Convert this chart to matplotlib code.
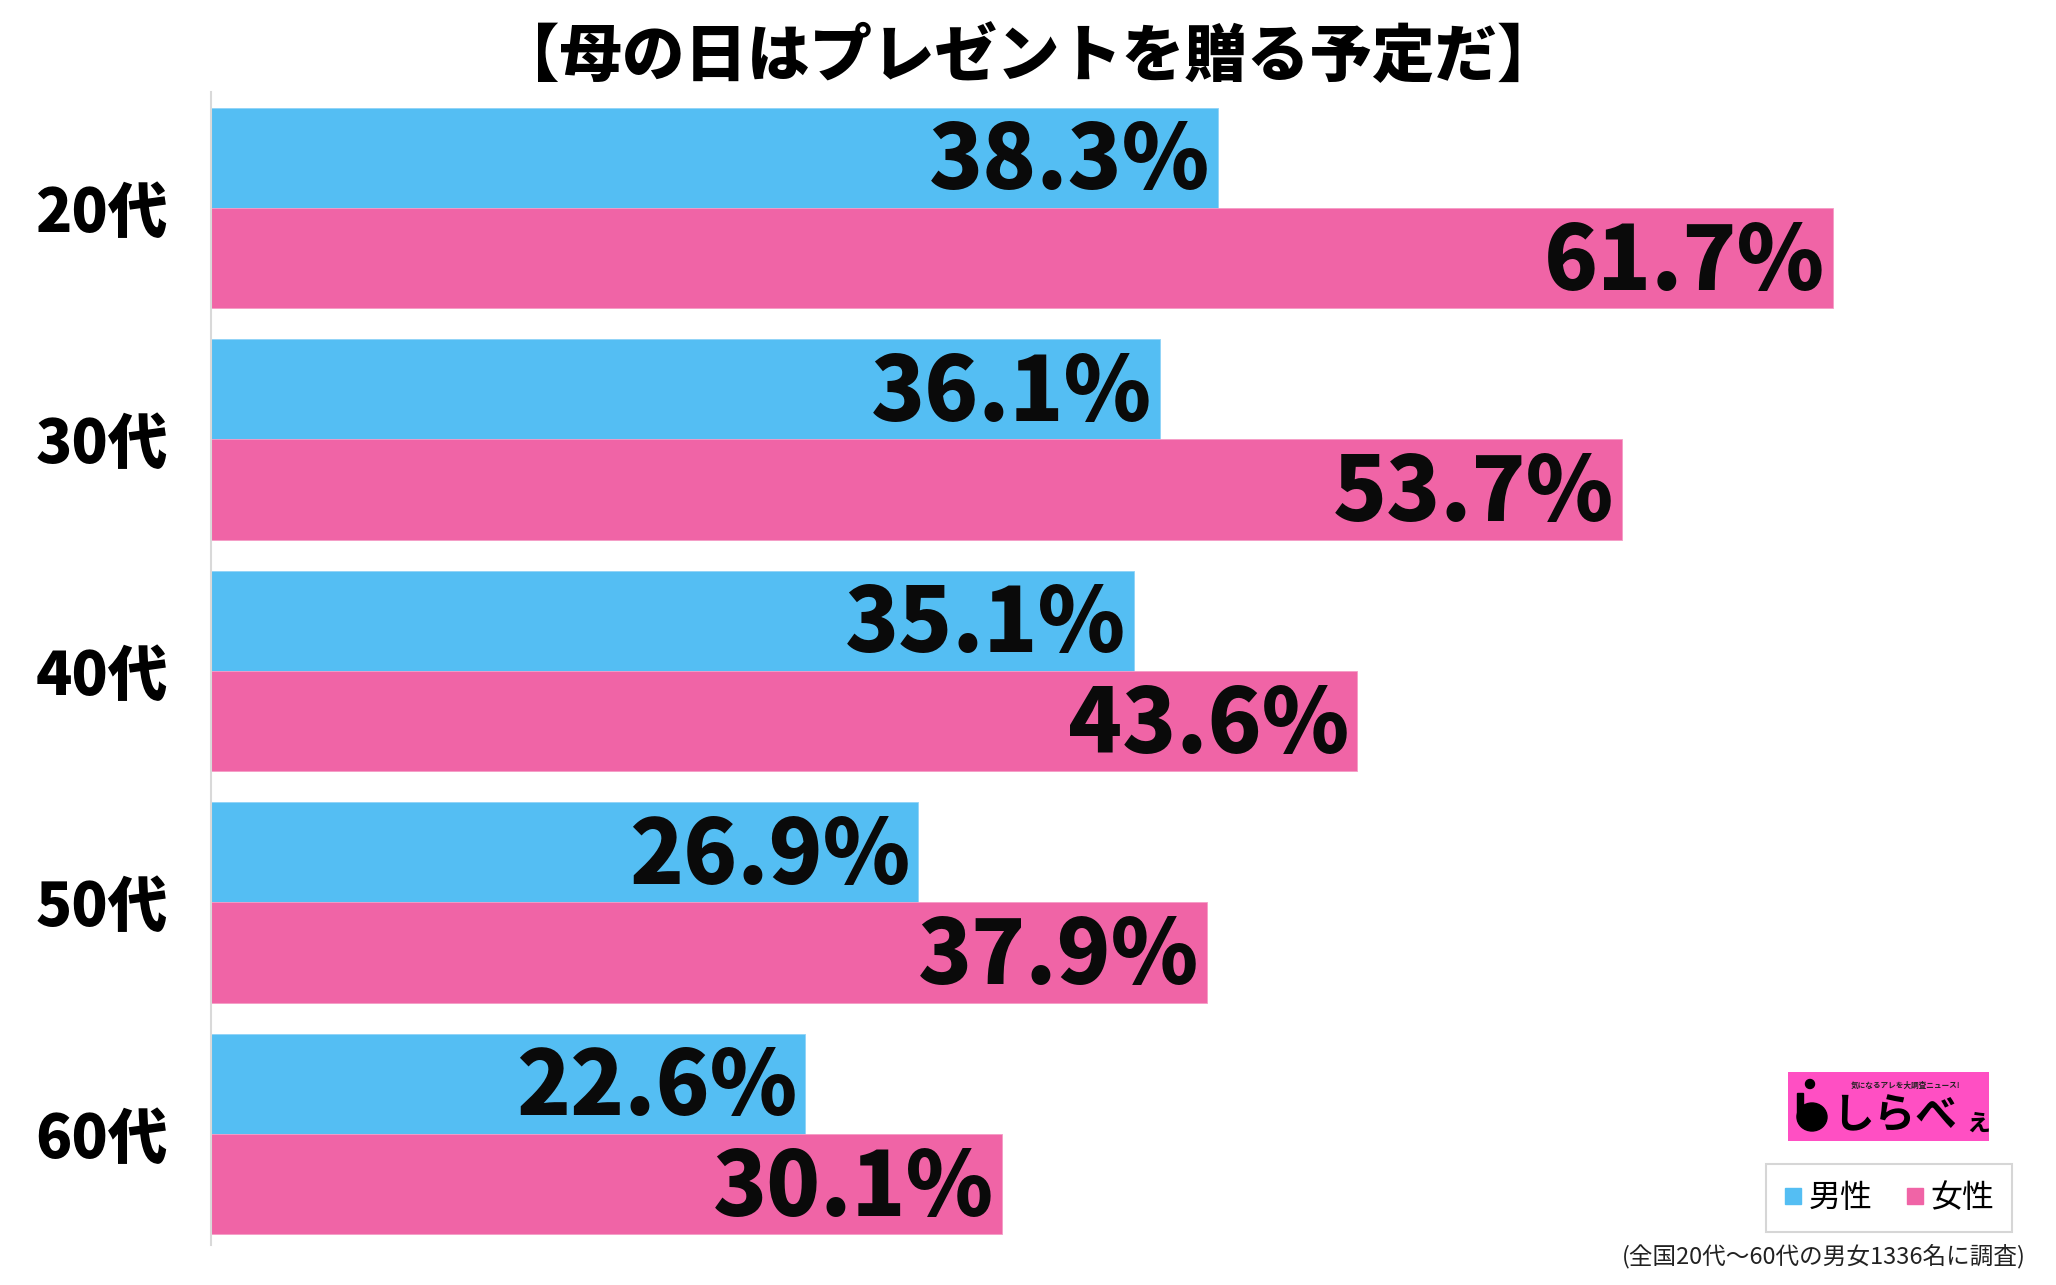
import numpy as np
import matplotlib
matplotlib.use("Agg")
import matplotlib.pyplot as plt
from matplotlib.lines import Line2D
from matplotlib.patches import Rectangle, Ellipse, Circle

plt.rcParams['font.family'] = ['Noto Sans CJK JP', 'DejaVu Sans']

# データ
title = '【母の日はプレゼントを贈る予定だ】'
categories = ['20代', '30代', '40代', '50代', '60代']
male = [38.3, 36.1, 35.1, 26.9, 22.6]
female = [61.7, 53.7, 43.6, 37.9, 30.1]
series_names = ['男性', '女性']
note = '(全国20代〜60代の男女1336名に調査)'

BLUE = '#54BEF3'
PINK = '#F064A6'

fig = plt.figure(figsize=(20.56, 12.85), dpi=100)
ax = fig.add_axes([211 / 2056, 1 - 1245 / 1285, 1 - 211 / 2056, (1245 - 92) / 1285])

pitch = 2.308  # グループ間隔（棒の高さ=1）
y0 = np.arange(len(categories)) * pitch
ax.barh(y0 + 0.5, male, height=1.0, color=BLUE, edgecolor='#8fd3f7', linewidth=0.6)
ax.barh(y0 + 1.5, female, height=1.0, color=PINK, edgecolor='#f59cc6', linewidth=0.6)

for i in range(len(categories)):
    ax.text(male[i] - 0.3, y0[i] + 0.55, f'{male[i]:.1f}%', ha='right', va='center',
            fontsize=64, fontweight='heavy', color='#0a0a0a')
    ax.text(female[i] - 0.3, y0[i] + 1.55, f'{female[i]:.1f}%', ha='right', va='center',
            fontsize=64, fontweight='heavy', color='#0a0a0a')

ax.set_xlim(0, 70.2)
ax.set_ylim(11.34, -0.155)
ax.set_xticks([])
ax.set_yticks(y0 + 1.0)
ax.set_yticklabels(categories, fontsize=43, fontweight='heavy')
ax.tick_params(axis='y', length=0, pad=31)
for s in ['top', 'right', 'bottom']:
    ax.spines[s].set_visible(False)
ax.spines['left'].set_color('#d9d9d9')
ax.spines['left'].set_linewidth(1.5)

fig.text(0.5, 1 - 57 / 1285, title, ha='center', va='center', fontsize=45, fontweight='heavy')

# 凡例
handles = [Line2D([], [], marker='s', linestyle='', markersize=11, color=BLUE),
           Line2D([], [], marker='s', linestyle='', markersize=11, color=PINK)]
leg = ax.legend(handles, series_names, loc='center', bbox_to_anchor=(1889 / 2056, 1 - 1198 / 1285),
                bbox_transform=fig.transFigure, ncol=2, fontsize=23, frameon=True, fancybox=False,
                handlelength=0.6, handletextpad=0.2, columnspacing=1.0, borderpad=0.55)
leg.get_frame().set_edgecolor('#cccccc')
leg.get_frame().set_linewidth(1.5)

# ロゴ
lax = fig.add_axes([1788 / 2056, 1 - 1141 / 1285, (1989 - 1788) / 2056, (1141 - 1072) / 1285])
lax.set_xlim(0, 201)
lax.set_ylim(0, 69)
lax.axis('off')
lax.add_patch(Rectangle((0, 0), 201, 69, color='#FF4FC3'))
lax.add_patch(Circle((22, 57), 4.5, color='black'))
lax.add_patch(Ellipse((24, 24), 30, 28, color='black'))
lax.add_patch(Rectangle((9, 24), 6, 24, color='black'))
lax.text(118, 56, '気になるアレを大調査ニュース!', ha='center', va='center', fontsize=5.5,
         fontweight='bold', color='#222222')
lax.text(44, 24, 'しらべ', ha='left', va='center', fontsize=30, fontweight='bold', color='black')
lax.text(176, 19, 'ぇ', ha='left', va='center', fontsize=20, fontweight='bold', color='black')

fig.text(2026 / 2056, 1 - 1256 / 1285, note, ha='right', va='center', fontsize=17, color='#222222')

fig.savefig('out.png', dpi=100)
